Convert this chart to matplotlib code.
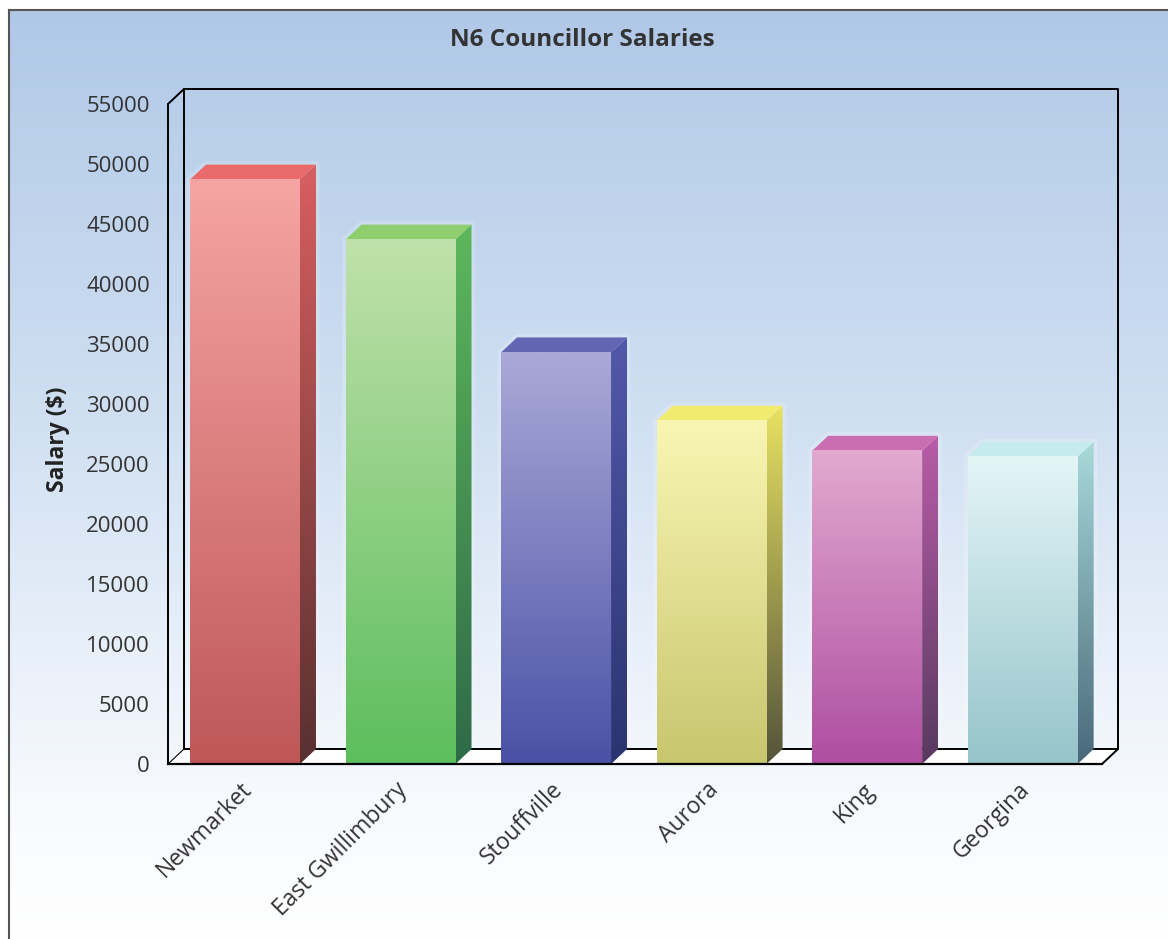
import numpy as np
import matplotlib
matplotlib.use('Agg')
import matplotlib.pyplot as plt
from matplotlib.patches import Polygon
from matplotlib.colors import to_rgb
from matplotlib.transforms import ScaledTranslation

# ---------------- data ----------------
categories = ["Newmarket", "East Gwillimbury", "Stouffville", "Aurora", "King", "Georgina"]
salaries = [48700, 43700, 34300, 28600, 26100, 25600]
yticks = list(range(0, 55001, 5000))
title = "N6 Councillor Salaries"
ylabel = "Salary ($)"

# colours (front face top/bottom, side face top/bottom, top face)
front_top = ["#f6a4a4", "#c0e1ab", "#aaa9d8", "#f9f6b4", "#e2aad0", "#e4f5f7"]
front_bot = ["#bf5757", "#5dbe5d", "#4a51a6", "#c8c66e", "#ae4ea1", "#95c4ca"]
side_top = ["#d85f5f", "#5db85c", "#5259aa", "#e8e262", "#b95ca8", "#a9dada"]
side_bot = ["#583030", "#2e6a48", "#2b336f", "#54543a", "#573a5f", "#48687a"]
top_face = ["#e96a6a", "#8fce6f", "#6266b2", "#f1eb70", "#c96fb1", "#c6ebee"]

W, H = 1168, 939
fig = plt.figure(figsize=(W / 100, H / 100), dpi=100)
plt.rcParams['font.family'] = ['Open Sans', 'DejaVu Sans']

# ---------------- background ----------------
bg = fig.add_axes([0, 0, 1, 1])
bg.set_xlim(0, W)
bg.set_ylim(H, 0)
bg.axis('off')
rows = np.arange(10, H + 1)
stops_y = [10, 430, 800, 939]
stops_c = np.array([[0.69, 0.785, 0.905], [0.82, 0.88, 0.95], [0.97, 0.98, 0.995], [1, 1, 1]])
grad = np.stack([np.interp(rows, stops_y, stops_c[:, k]) for k in range(3)], axis=1)[:, None, :]
bg.imshow(grad, extent=[9, W, H, 10], aspect='auto', interpolation='bilinear')
bg.plot([9, 9], [H, 10], color='#555555', lw=1.5)
bg.plot([9, W], [10, 10], color='#555555', lw=1.5)
bg.set_xlim(0, W)
bg.set_ylim(H, 0)

# ---------------- main axes ----------------
x_left_px, x_right_px = 168, 1102
y0_px, ytop_px = 764, 104
ax = fig.add_axes([x_left_px / W, 1 - y0_px / H, (x_right_px - x_left_px) / W, (y0_px - ytop_px) / H])
ax.patch.set_visible(False)
for s in ax.spines.values():
    s.set_visible(False)
x0, x1 = -0.495, 5.51
ymax = 55000
ax.set_xlim(x0, x1)
ax.set_ylim(0, ymax)
ax.set_autoscale_on(False)

# depth offset in data units (16 px right, 15 px up)
p0 = ax.transData.transform((0, 0))
dxy = ax.transData.inverted().transform(p0 + np.array([16, 15]))
dx, dy = dxy[0], dxy[1]

line_kw = dict(color='black', lw=1.4, clip_on=False, zorder=3, solid_capstyle='round')

# floor
floor = Polygon([(x0, 0), (x1, 0), (x1 + dx, dy), (x0 + dx, dy)], closed=True,
                facecolor='white', edgecolor='none', zorder=1, clip_on=False)
ax.add_patch(floor)
# back wall
ax.plot([x0 + dx, x1 + dx, x1 + dx, x0 + dx, x0 + dx],
        [dy, dy, ymax + dy, ymax + dy, dy], **line_kw)
# left wall / front edges
ax.plot([x0, x0], [0, ymax], **line_kw)
ax.plot([x0, x0 + dx], [ymax, ymax + dy], **line_kw)
ax.plot([x0, x0 + dx], [0, dy], color='black', lw=0.8, clip_on=False, zorder=3)
ax.plot([x0, x1], [0, 0], color='black', lw=1.6, clip_on=False, zorder=8)
ax.plot([x1, x1 + dx], [0, dy], **line_kw)


def vgrad(c_top, c_bot, n=256):
    t = np.linspace(0, 1, n)[:, None]
    a, b = np.array(to_rgb(c_top)), np.array(to_rgb(c_bot))
    return (a[None, :] * (1 - t) + b[None, :] * t)[:, None, :]


w = 0.707
for i, v in enumerate(salaries):
    xl, xr = i - w / 2, i + w / 2
    # soft glow around bar
    glow = Polygon([(xl, 0), (xl, v), (xl + dx, v + dy), (xr + dx, v + dy), (xr + dx, dy), (xr, 0)],
                   closed=True, facecolor='none', edgecolor='white', lw=5, alpha=0.18,
                   zorder=2, joinstyle='round')
    ax.add_patch(glow)
    # side face
    side = Polygon([(xr, 0), (xr + dx, dy), (xr + dx, v + dy), (xr, v)], closed=True,
                   facecolor='none', edgecolor='none', transform=ax.transData)
    ax.add_patch(side)
    im = ax.imshow(vgrad(side_top[i], side_bot[i]), extent=[xr, xr + dx, 0, v + dy],
                   aspect='auto', zorder=4, interpolation='bilinear')
    im.set_clip_path(side)
    # top face
    top = Polygon([(xl, v), (xr, v), (xr + dx, v + dy), (xl + dx, v + dy)], closed=True,
                  facecolor=top_face[i], edgecolor='none', zorder=4)
    ax.add_patch(top)
    # front face
    ax.imshow(vgrad(front_top[i], front_bot[i]), extent=[xl, xr, 0, v],
              aspect='auto', zorder=5, interpolation='bilinear')

ax.set_xlim(x0, x1)
ax.set_ylim(0, ymax)

# ticks
ax.set_yticks(yticks)
ax.set_yticklabels([str(t) for t in yticks])
ax.tick_params(axis='y', length=0, pad=13, labelsize=16, labelcolor='#333333')
ax.set_xticks(range(len(categories)))
ax.set_xticklabels(categories, rotation=45, ha='right', rotation_mode='anchor')
ax.tick_params(axis='x', length=0, pad=10, labelsize=16.5, labelcolor='#333333')
for lab in ax.get_xticklabels():
    lab.set_transform(lab.get_transform() + ScaledTranslation(-5 / 100, 0, fig.dpi_scale_trans))

fig.text(582.5 / W, 1 - 40 / H, title, ha='center', va='center', fontsize=17.5,
         fontweight='bold', color='#333333')
fig.text(58 / W, 1 - 439 / H, ylabel, ha='center', va='center', rotation=90,
         fontsize=16.5, fontweight='bold', color='#222222')

fig.savefig('out.png', dpi=100)
